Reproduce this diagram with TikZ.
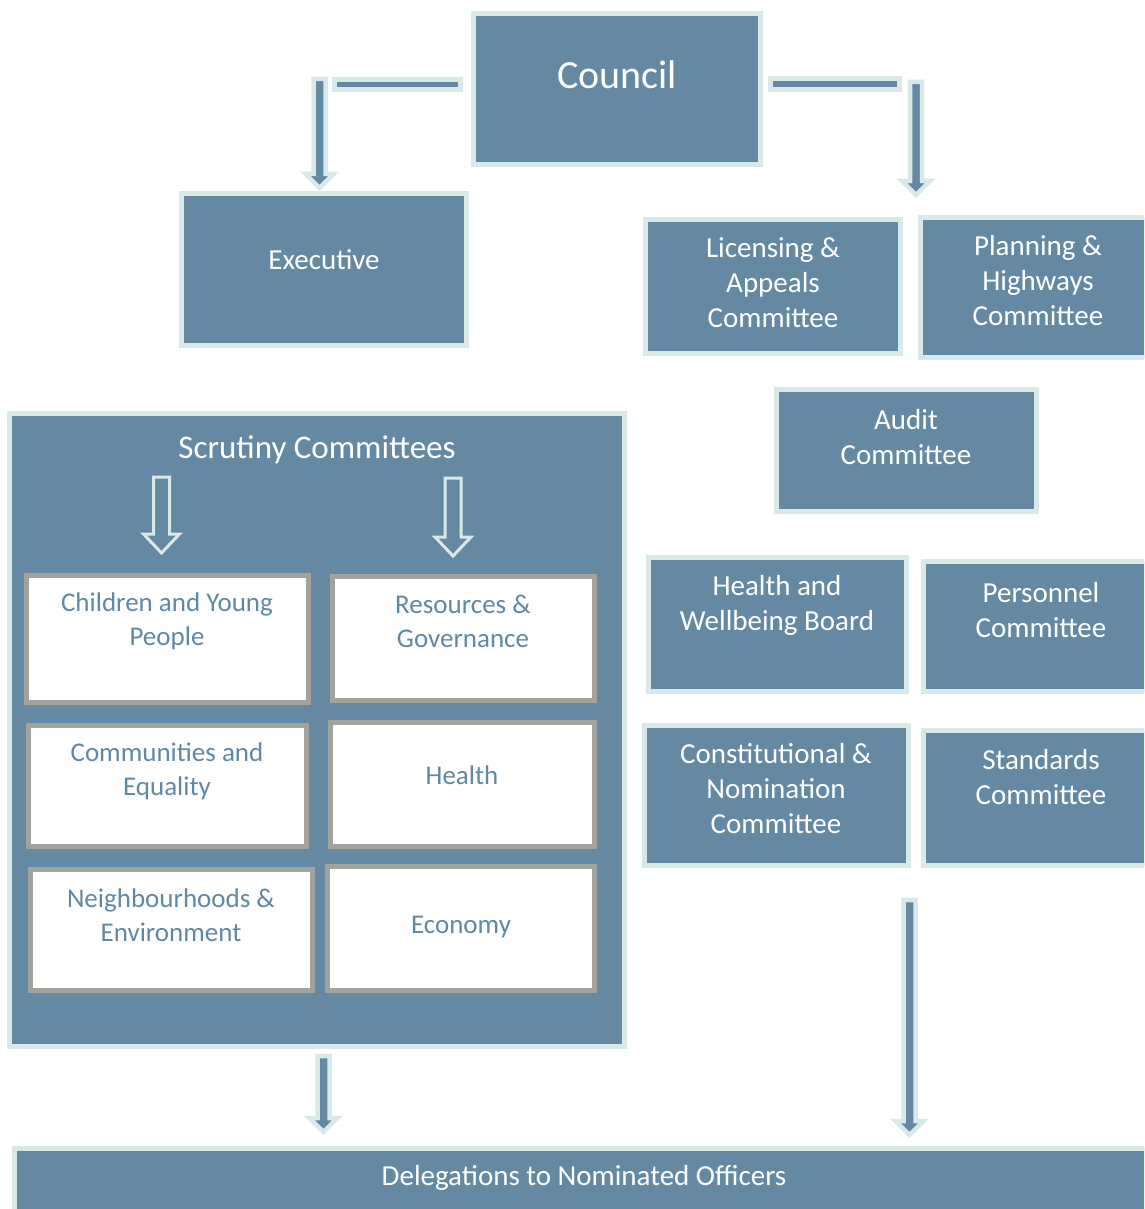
\documentclass[tikz,border=0pt]{standalone}
\usepackage{fontspec}
\setmainfont{Carlito}
\definecolor{steel}{HTML}{6589A2}
\definecolor{pale}{HTML}{D8E9E7}
\definecolor{greybd}{HTML}{A3A39E}
\definecolor{bluetxt}{HTML}{5E89A6}
\tikzset{
  bluebox/.style={draw=pale, fill=steel, line width=5pt, inner sep=0pt},
  whitebox/.style={draw=greybd, fill=white, line width=5pt, inner sep=0pt},
  wtxt/.style={text=white, align=center, inner sep=0pt, font=\fontsize{29}{35}\selectfont},
  btxt/.style={text=bluetxt, align=center, inner sep=0pt, font=\fontsize{27}{34}\selectfont},
  blockarr/.style={draw=pale, fill=steel, line width=4.5pt, line join=miter},
  hollowarr/.style={draw=pale, fill=steel, line width=3pt, line join=miter},
  barstyle/.style={draw=pale, fill=steel, line width=5pt}
}
\newcommand\downblk[4]{% style, x, ytop, ytip
  \draw[#1] ({#2-6},{#3}) -- ({#2+6},{#3}) -- ({#2+6},{#4-14}) -- ({#2+14},{#4-14}) -- ({#2},{#4}) -- ({#2-14},{#4-14}) -- ({#2-6},{#4-14}) -- cycle;}
\newcommand\downhollow[4]{% style, x, ytop, ytip
  \draw[#1] ({#2-8},{#3}) -- ({#2+8},{#3}) -- ({#2+8},{#4-19}) -- ({#2+18},{#4-19}) -- ({#2},{#4}) -- ({#2-18},{#4-19}) -- ({#2-8},{#4-19}) -- cycle;}
\begin{document}
\begin{tikzpicture}[x=1pt,y=-1pt]
\clip (0,0) rectangle (1144,1209);
\fill[white] (0,0) rectangle (1144,1209);

% top blue boxes
\node[bluebox, minimum width=287pt, minimum height=151pt] (council) at (617,89) {};
\node[wtxt, font=\fontsize{40}{46}\selectfont] (council-t) at (617,75) {Council};
\node[bluebox, minimum width=285pt, minimum height=152pt] (exec) at (324,269.5) {};
\node[wtxt] (exec-t) at (324,260) {Executive};

\node[bluebox, minimum width=255pt, minimum height=134pt] (lic) at (773,286.5) {};
\node[wtxt] (lic-t) at (773,283) {Licensing \&\\Appeals\\Committee};
\node[bluebox, minimum width=237pt, minimum height=140pt] (plan) at (1039,287.5) {};
\node[wtxt] (plan-t) at (1038,281) {Planning \&\\Highways\\Committee};

\node[bluebox, minimum width=260pt, minimum height=122pt] (audit) at (906.5,450.5) {};
\node[wtxt] (audit-t) at (906,437) {Audit\\Committee};

\node[bluebox, minimum width=258pt, minimum height=134pt] (hwb) at (777.5,624.5) {};
\node[wtxt] (hwb-t) at (777,605) {Health and\\Wellbeing Board};
\node[bluebox, minimum width=232pt, minimum height=130pt] (pers) at (1039,626.5) {};
\node[wtxt] (pers-t) at (1041,610) {Personnel\\Committee};

\node[bluebox, minimum width=264pt, minimum height=140pt] (const) at (776.5,795.5) {};
\node[wtxt] (const-t) at (776,789) {Constitutional \&\\Nomination\\Committee};
\node[bluebox, minimum width=232pt, minimum height=135pt] (stand) at (1039,798) {};
\node[wtxt] (stand-t) at (1041,777) {Standards\\Committee};

% scrutiny
\node[bluebox, minimum width=615pt, minimum height=633pt] (scr) at (317,730) {};
\node[wtxt, font=\fontsize{33}{38}\selectfont] (scr-t) at (317,450) {Scrutiny Committees};
\downhollow{hollowarr}{161.5}{477}{553}
\downhollow{hollowarr}{453}{478}{556}

\node[whitebox, minimum width=282pt, minimum height=127pt] (cyp) at (167.5,639) {};
\node[btxt] (cyp-t) at (167,621) {Children and Young\\People};
\node[whitebox, minimum width=262pt, minimum height=124pt] (res) at (463.5,638.5) {};
\node[btxt] (res-t) at (463,621) {Resources \&\\Governance};
\node[whitebox, minimum width=278pt, minimum height=121pt] (com) at (167.5,786) {};
\node[btxt] (com-t) at (167,771) {Communities and\\Equality};
\node[whitebox, minimum width=264pt, minimum height=124pt] (hea) at (462.5,784.5) {};
\node[btxt] (hea-t) at (462,775) {Health};
\node[whitebox, minimum width=282pt, minimum height=121pt] (nei) at (171.5,930) {};
\node[btxt] (nei-t) at (171,915) {Neighbourhoods \&\\Environment};
\node[whitebox, minimum width=267pt, minimum height=124pt] (eco) at (461,928.5) {};
\node[btxt] (eco-t) at (461,927) {Economy};

% delegations
\node[bluebox, minimum width=1160pt, minimum height=70pt] (del) at (594,1183) {};
\node[wtxt] (del-t) at (584,1178) {Delegations to Nominated Officers};

% connectors
\draw[barstyle] (334.5,79.5) rectangle (460.5,89.5);
\downblk{blockarr}{319.5}{79}{188}
\draw[barstyle] (770.5,78.5) rectangle (899.5,89.5);
\downblk{blockarr}{916}{82}{195}
\downblk{blockarr}{323.5}{1056}{1132}
\downblk{blockarr}{909.5}{900}{1135}
\end{tikzpicture}
\end{document}
